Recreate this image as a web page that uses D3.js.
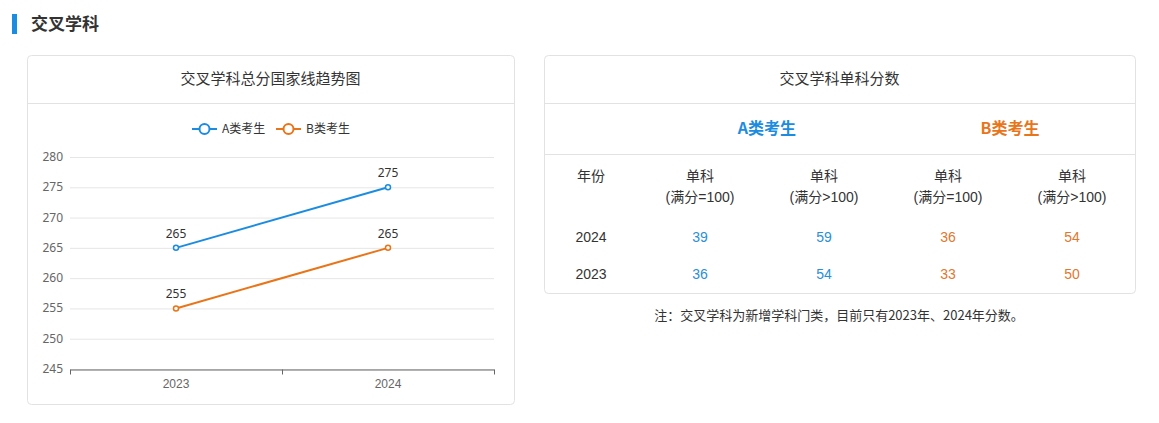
<!DOCTYPE html>
<html><head><meta charset="utf-8">
<script src="https://cdn.jsdelivr.net/npm/d3@7"></script>
<style>
body{margin:0;background:#fff;font-family:"Noto Sans CJK SC","Noto Sans",sans-serif;}
</style></head>
<body><svg id="c" width="1159" height="423"></svg>
<script>
// data
var years = ["2023", "2024"];
var seriesNames = ["A类考生", "B类考生"];
var seriesA = [265, 275];
var seriesB = [255, 265];
var yTicks = [245, 250, 255, 260, 265, 270, 275, 280];
var tableCols = ["单科\n(满分=100)", "单科\n(满分>100)", "单科\n(满分=100)", "单科\n(满分>100)"];
var tableYears = ["2024", "2023"];
var tableRows = [[39, 59, 36, 54], [36, 54, 33, 50]];

var BLUE = "#1c8ce0", ORANGE = "#e8751a";
var TBLUE = "#2b8fd6", TORANGE = "#e0782f";

var svg = d3.select("#c");

// section title
svg.append("rect").attr("x", 12).attr("y", 14).attr("width", 5).attr("height", 20).attr("fill", BLUE);
svg.append("text").attr("x", 31).attr("y", 30).attr("font-size", 17).attr("font-weight", "bold")
  .attr("fill", "#333").text("交叉学科");

// panels
function panel(x, y, w, h, title) {
  svg.append("rect").attr("x", x + .5).attr("y", y + .5).attr("width", w).attr("height", h)
    .attr("rx", 4).attr("fill", "#fff").attr("stroke", "#e2e2e2");
  svg.append("line").attr("x1", x).attr("x2", x + w).attr("y1", 103.5).attr("y2", 103.5).attr("stroke", "#e2e2e2");
  svg.append("text").attr("x", x + w / 2).attr("y", 84).attr("text-anchor", "middle")
    .attr("font-size", 15).attr("fill", "#333").text(title);
}
panel(27, 55, 487, 349, "交叉学科总分国家线趋势图");
panel(544, 55, 591, 238, "交叉学科单科分数");

// line chart
var x = d3.scaleBand().domain(years).range([70, 494]);
var y = d3.scaleLinear().domain([245, 280]).range([369, 157]);
var g = svg.append("g").attr("font-family", "Noto Sans, sans-serif");

g.selectAll(".grid").data(yTicks).join("line")
  .attr("x1", 70).attr("x2", 494).attr("y1", d => y(d) + .5).attr("y2", d => y(d) + .5)
  .attr("stroke", "#e6e6e6");
g.selectAll(".yl").data(yTicks).join("text")
  .attr("x", 63).attr("y", d => y(d) + 4).attr("text-anchor", "end")
  .attr("font-size", 12).attr("fill", "#666").text(d => d);

var xa = g.append("g").attr("transform", "translate(0,369.5)")
  .call(d3.axisBottom(x).tickSize(5).tickSizeOuter(0));
xa.select(".domain").attr("stroke", "#666");
xa.selectAll(".tick line").remove();
xa.selectAll(".tick text").attr("font-size", 12).attr("fill", "#666").attr("dy", "0.9em");
[70, 282, 494].forEach(px => {
  xa.append("line").attr("x1", px + .5).attr("x2", px + .5).attr("y1", 0).attr("y2", 5).attr("stroke", "#666");
});

var cx = d => x(d) + x.bandwidth() / 2;
var line = d3.line().x((d, i) => cx(years[i])).y(d => y(d));
[[seriesA, BLUE], [seriesB, ORANGE]].forEach(([s, col]) => {
  g.append("path").datum(s).attr("d", line).attr("fill", "none").attr("stroke", col).attr("stroke-width", 2);
  g.selectAll(null).data(s).join("circle")
    .attr("cx", (d, i) => cx(years[i])).attr("cy", d => y(d)).attr("r", 2.5)
    .attr("fill", "#fff").attr("stroke", col).attr("stroke-width", 1.5);
  g.selectAll(null).data(s).join("text")
    .attr("x", (d, i) => cx(years[i])).attr("y", d => y(d) - 10).attr("text-anchor", "middle")
    .attr("font-size", 12).attr("fill", "#333").text(d => d);
});

// legend
var lg = svg.append("g");
[[BLUE, 192], [ORANGE, 276]].forEach(([col, lx], i) => {
  lg.append("line").attr("x1", lx).attr("x2", lx + 25).attr("y1", 129).attr("y2", 129).attr("stroke", col).attr("stroke-width", 2);
  lg.append("circle").attr("cx", lx + 12.5).attr("cy", 129).attr("r", 5).attr("fill", "#fff").attr("stroke", col).attr("stroke-width", 2);
  lg.append("text").attr("x", lx + 30).attr("y", 133).attr("font-size", 12).attr("fill", "#333").text(seriesNames[i]);
});

// table
svg.append("line").attr("x1", 544).attr("x2", 1135).attr("y1", 154.5).attr("y2", 154.5).attr("stroke", "#e2e2e2");
svg.append("text").attr("x", 767).attr("y", 134).attr("text-anchor", "middle").attr("font-size", 16)
  .attr("font-weight", "bold").attr("fill", BLUE).text(seriesNames[0]);
svg.append("text").attr("x", 1010).attr("y", 134).attr("text-anchor", "middle").attr("font-size", 16)
  .attr("font-weight", "bold").attr("fill", ORANGE).text(seriesNames[1]);

var colX = [591, 700, 824, 948, 1072];
var tg = svg.append("g").attr("font-size", 14).attr("text-anchor", "middle").attr("font-family", "Liberation Sans, Noto Sans CJK SC, sans-serif");
tg.append("text").attr("x", colX[0]).attr("y", 181).attr("fill", "#333").text("年份");
tableCols.forEach((c, i) => {
  c.split("\n").forEach((t, j) => {
    tg.append("text").attr("x", colX[i + 1]).attr("y", 181 + j * 21).attr("fill", "#333").text(t);
  });
});
tableRows.forEach((r, ri) => {
  var ry = 242 + ri * 37;
  tg.append("text").attr("x", colX[0]).attr("y", ry).attr("fill", "#333").text(tableYears[ri]);
  r.forEach((v, i) => {
    tg.append("text").attr("x", colX[i + 1]).attr("y", ry).attr("fill", i < 2 ? TBLUE : TORANGE).text(v);
  });
});

svg.append("text").attr("x", 839).attr("y", 320).attr("text-anchor", "middle").attr("font-size", 13)
  .attr("fill", "#333").text("注：交叉学科为新增学科门类，目前只有2023年、2024年分数。");
</script></body></html>
